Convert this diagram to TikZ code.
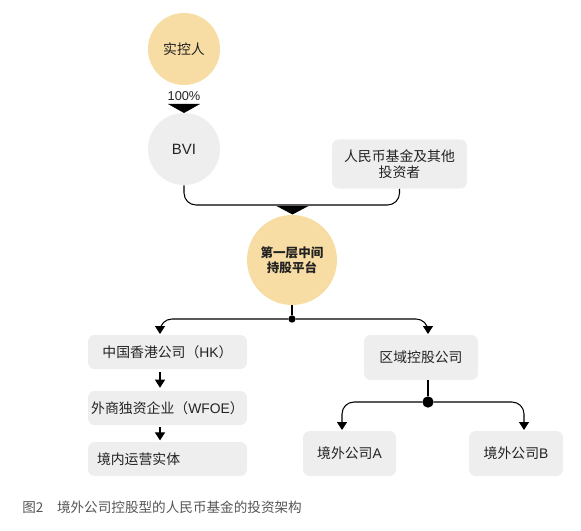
\documentclass[tikz,border=0pt]{standalone}
\usepackage{fontspec}
\setmainfont{Noto Sans CJK SC}
\newfontfamily\lat{Liberation Sans}
\usetikzlibrary{arrows.meta}
\definecolor{peach}{HTML}{F7DCA3}
\definecolor{boxgray}{HTML}{EEEEEE}
\definecolor{txt}{HTML}{222222}
\definecolor{cap}{HTML}{555555}
\tikzset{
  base/.style={text=txt, font=\fontsize{10.4pt}{12pt}\selectfont, inner sep=0pt},
  circY/.style={base, circle, fill=peach, minimum size=54pt, align=center},
  circG/.style={base, circle, fill=boxgray, minimum size=54pt},
  gbox/.style={base, rounded corners=5pt, fill=boxgray, align=center},
  line/.style={draw=black, line width=0.8pt},
  arr/.style={line, -{Triangle[width=7.5pt,length=6pt]}},
  roundturn/.style={rounded corners=9pt},
  dot/.style={circle, fill=black, inner sep=0pt},
  bigtri/.style={fill=black, draw=none},
}
\begin{document}
\begin{tikzpicture}[x=0.75pt, y=-0.75pt]
\useasboundingbox (0,0) rectangle (581,531);
% nodes
\node[circY] (ctrl) at (184,49) {实控人};
\node[base, font=\lat\fontsize{9.6pt}{10pt}\selectfont] (pct) at (184,96) {100\%};
\node[circG, font=\lat\fontsize{11.2pt}{12pt}\selectfont] (bvi) at (184,149) {BVI};
\node[gbox, minimum width=101.25pt, minimum height=36.75pt] (fund) at (399.5,164) {人民币基金及其他\\投资者};
\node[circY, minimum size=67.5pt, font=\bfseries\fontsize{9.4pt}{11.3pt}\selectfont] (plat) at (292,260) {第一层中间\\持股平台};
\node[gbox, minimum width=119.25pt, minimum height=25.5pt] (hk) at (167.5,352) {中国香港公司（{\lat HK}）};
\node[gbox, minimum width=119.25pt, minimum height=25.5pt] (wfoe) at (167.5,408) {外商独资企业（{\lat WFOE}）};
\node[gbox, text width=105.75pt, inner xsep=6.75pt, minimum height=25.5pt, align=left] (jn) at (167.5,459) {境内运营实体};
\node[gbox, minimum width=85.5pt, minimum height=33.75pt] (qy) at (421,357.5) {区域控股公司};
\node[gbox, minimum width=69.75pt, minimum height=33.75pt] (ca) at (349.5,453.5) {境外公司{\lat A}};
\node[gbox, minimum width=70.5pt, minimum height=33.75pt] (cb) at (516,453.5) {境外公司{\lat B}};
\node[base, text=cap, font=\fontsize{10.2pt}{11pt}\selectfont, anchor=west] (caption) at (22,507) {图2\hspace{1em}境外公司控股型的人民币基金的投资架构};
% coordinates
\coordinate (mid) at (292,205);
\coordinate (t1) at (160,334);
\coordinate (t2) at (428,334);
\coordinate (tA) at (342,430);
\coordinate (tB) at (524,430);
\node[dot, minimum size=5.5pt] (d1) at (292,319) {};
\node[dot, minimum size=8.5pt] (d2) at (428,402) {};
% connectors
\fill[bigtri] (168,104) -- (200,104) -- (184,113) -- cycle;
\draw[line, roundturn] (bvi.south) |- (mid) -| (fund.south);
\fill[bigtri] (276.5,206) -- (308.5,206) -- (292.5,214.5) -- cycle;
\draw[line] (plat.south) -- (d1);
\draw[arr, roundturn] (d1) -| (t1);
\draw[arr, roundturn] (d1) -| (t2);
\draw[arr, shorten <=2.25pt, shorten >=2.25pt] (hk.south -| t1) -- (wfoe.north -| t1);
\draw[arr, shorten <=1.5pt, shorten >=1pt] (wfoe.south -| t1) -- (jn.north -| t1);
\draw[line] (qy.south -| d2) -- (d2);
\draw[arr, roundturn] (d2) -| (tA);
\draw[arr, roundturn] (d2) -| (tB);
\end{tikzpicture}
\end{document}
